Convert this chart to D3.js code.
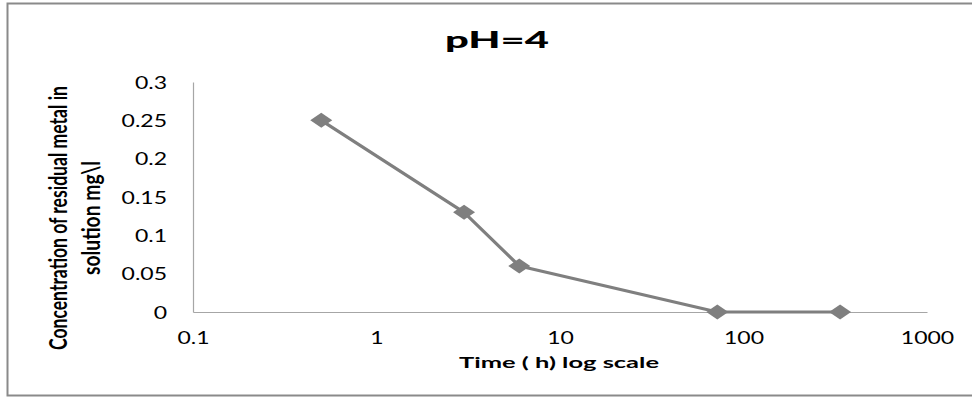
<!DOCTYPE html>
<html>
<head>
<meta charset="utf-8">
<script src="https://cdn.jsdelivr.net/npm/d3@7"></script>
<style>
  html, body { margin: 0; padding: 0; background: #fff; }
  svg { display: block; }
  text { font-family: Lato, "Open Sans", sans-serif; fill: #000; }
</style>
</head>
<body>
<svg id="chart" width="972" height="398"></svg>
<script>
// Residual metal concentration over time at pH 4
const times = [0.5, 3, 6, 72, 336];               // hours
const concentrations = [0.25, 0.13, 0.06, 0, 0];   // mg\l
const xTickValues = [0.1, 1, 10, 100, 1000];
const xTickLabels = ["0.1", "1", "10", "100", "1000"];
const yTickValues = [0, 0.05, 0.1, 0.15, 0.2, 0.25, 0.3];
const yTickLabels = ["0", "0.05", "0.1", "0.15", "0.2", "0.25", "0.3"];
const chartTitle = "pH=4";
const xTitle = "Time ( h) log scale";
const yTitleLines = ["Concentration of residual metal in", "solution mg\\l"];

const W = 972, H = 398;
const plot = { left: 193, right: 927, top: 82, bottom: 312 };
const widen = 1.37;          // horizontal text stretch
const grey = "#7f7f7f";

const svg = d3.select("#chart");

// outer chart frame
svg.append("rect")
  .attr("x", 7.5).attr("y", 3.5)
  .attr("width", 990).attr("height", 392)
  .attr("fill", "#fff").attr("stroke", "#8a8a8a").attr("stroke-width", 2);

const x = d3.scaleLog().domain([0.1, 1000]).range([plot.left, plot.right]);
const y = d3.scaleLinear().domain([0, 0.3]).range([plot.bottom, plot.top]);

// axes
const yAxis = svg.append("g")
  .attr("transform", `translate(${plot.left},0)`)
  .call(d3.axisLeft(y).tickValues(yTickValues)
    .tickFormat((d, i) => yTickLabels[i]).tickSize(0).tickPadding(26));

const xAxis = svg.append("g")
  .attr("transform", `translate(0,${plot.bottom})`)
  .call(d3.axisBottom(x).tickValues(xTickValues)
    .tickFormat((d, i) => xTickLabels[i]).tickSize(0).tickPadding(20));

[yAxis, xAxis].forEach(g => {
  g.select(".domain").attr("stroke", "#a6a6a6").attr("stroke-width", 1.2);
  g.selectAll("text")
    .attr("font-size", 16.8)
    .attr("fill", "#111")
    .style("font-family", "Lato, sans-serif");
});
yAxis.selectAll("text")
  .attr("x", -26 / widen).attr("dy", "0.36em")
  .attr("transform", `scale(${widen},1)`);
xAxis.selectAll("text")
  .attr("transform", `scale(${widen},1)`);

// series line
const pts = times.map((t, i) => [t, concentrations[i]]);
svg.append("path")
  .datum(pts)
  .attr("fill", "none")
  .attr("stroke", grey)
  .attr("stroke-width", 3.2)
  .attr("stroke-linejoin", "round")
  .attr("d", d3.line().x(d => x(d[0])).y(d => y(d[1])));

// diamond markers
svg.append("g").selectAll("path")
  .data(pts)
  .join("path")
  .attr("transform", d => `translate(${x(d[0])},${y(d[1])})`)
  .attr("d", "M-11,0L0,-7.5L11,0L0,7.5Z")
  .attr("fill", grey);

// title
svg.append("text")
  .attr("x", 497).attr("y", 48)
  .attr("text-anchor", "middle")
  .attr("font-size", 23).attr("font-weight", 900)
  .attr("textLength", 104).attr("lengthAdjust", "spacingAndGlyphs")
  .text(chartTitle);

// x axis title
svg.append("text")
  .attr("x", 559).attr("y", 368)
  .attr("text-anchor", "middle")
  .attr("font-size", 16).attr("font-weight", 700)
  .attr("textLength", 200).attr("lengthAdjust", "spacingAndGlyphs")
  .text(xTitle);

// y axis title, two rotated lines
const yTitleX = [67, 100], yTitleLen = [264, 114];
yTitleLines.forEach((line, i) => {
  svg.append("g")
    .attr("transform", `translate(${yTitleX[i]},218) scale(${widen},1) rotate(-90)`)
    .append("text")
    .attr("text-anchor", "middle")
    .attr("font-size", 18.5).attr("font-weight", 700)
    .attr("textLength", yTitleLen[i]).attr("lengthAdjust", "spacingAndGlyphs")
    .text(line);
});
</script>
</body>
</html>
